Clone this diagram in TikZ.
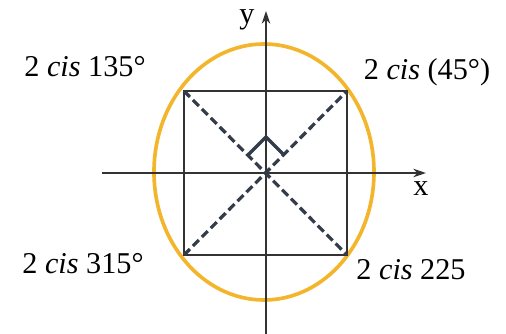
\documentclass[tikz,border=0pt]{standalone}
\usepackage{fontspec}
\setmainfont{Liberation Serif}
\usetikzlibrary{positioning, calc, arrows.meta}

\begin{document}
\begin{tikzpicture}[
  x=0.25mm, y=0.25mm,
  font=\fontsize{21.5}{25}\selectfont,
  >={Stealth[length=9pt,width=6pt]},
  axisline/.style={draw=black!80, line width=1.1pt},
  boxline/.style={draw=black!80, line width=1.1pt},
  diagline/.style={draw=cNavy, line width=2.3pt, dash pattern=on 6pt off 3pt},
  cislabel/.style={inner sep=1pt},
]

\definecolor{cGold}{HTML}{F2B52C}
\definecolor{cNavy}{HTML}{343C4A}

\useasboundingbox (-266,-161) rectangle (240,173);

% =====================================================================
% Circle (drawn as ellipse) and axes
% =====================================================================
\draw[cGold, line width=2.6pt] (-2,1) ellipse [x radius=110, y radius=128];

\coordinate (xStart) at (-164,0);
\coordinate (xEnd)   at (160,0);
\coordinate (yStart) at (0,-161);
\coordinate (yEnd)   at (0,162);

\draw[axisline, ->] (xStart) -- (xEnd);
\draw[axisline, ->] (yStart) -- (yEnd);
\node (xLbl) at (155,-16) {x};
\node (yLbl) at (-19,153) {y};

% =====================================================================
% Square through the four points
% =====================================================================
\pgfmathsetmacro{\hs}{82}
\coordinate (pNE) at (\hs-1, \hs);
\coordinate (pNW) at (-\hs, \hs);
\coordinate (pSW) at (-\hs, -\hs);
\coordinate (pSE) at (\hs-1, -\hs);

\draw[boxline] (pNE) -- (pNW) -- (pSW) -- (pSE) -- cycle;

% diagonals
\draw[diagline] (pNW) -- (pSE);
\draw[diagline] (pSW) -- (pNE);

% right angle mark
\coordinate (raL) at (-18,18);
\coordinate (raT) at (0,36);
\coordinate (raR) at (18,18);
\draw[cNavy, line width=2.3pt] (raL) -- (raT) -- (raR);

% =====================================================================
% Labels
% =====================================================================
\node[cislabel] (lNW) at (-181,106) {2 \textit{cis} 135°};
\node[cislabel] (lNE) at (161,101)  {2 \textit{cis} (45°)};
\node[cislabel] (lSW) at (-183,-91) {2 \textit{cis} 315°};
\node[cislabel] (lSE) at (145,-97)  {2 \textit{cis} 225};

\end{tikzpicture}
\end{document}
